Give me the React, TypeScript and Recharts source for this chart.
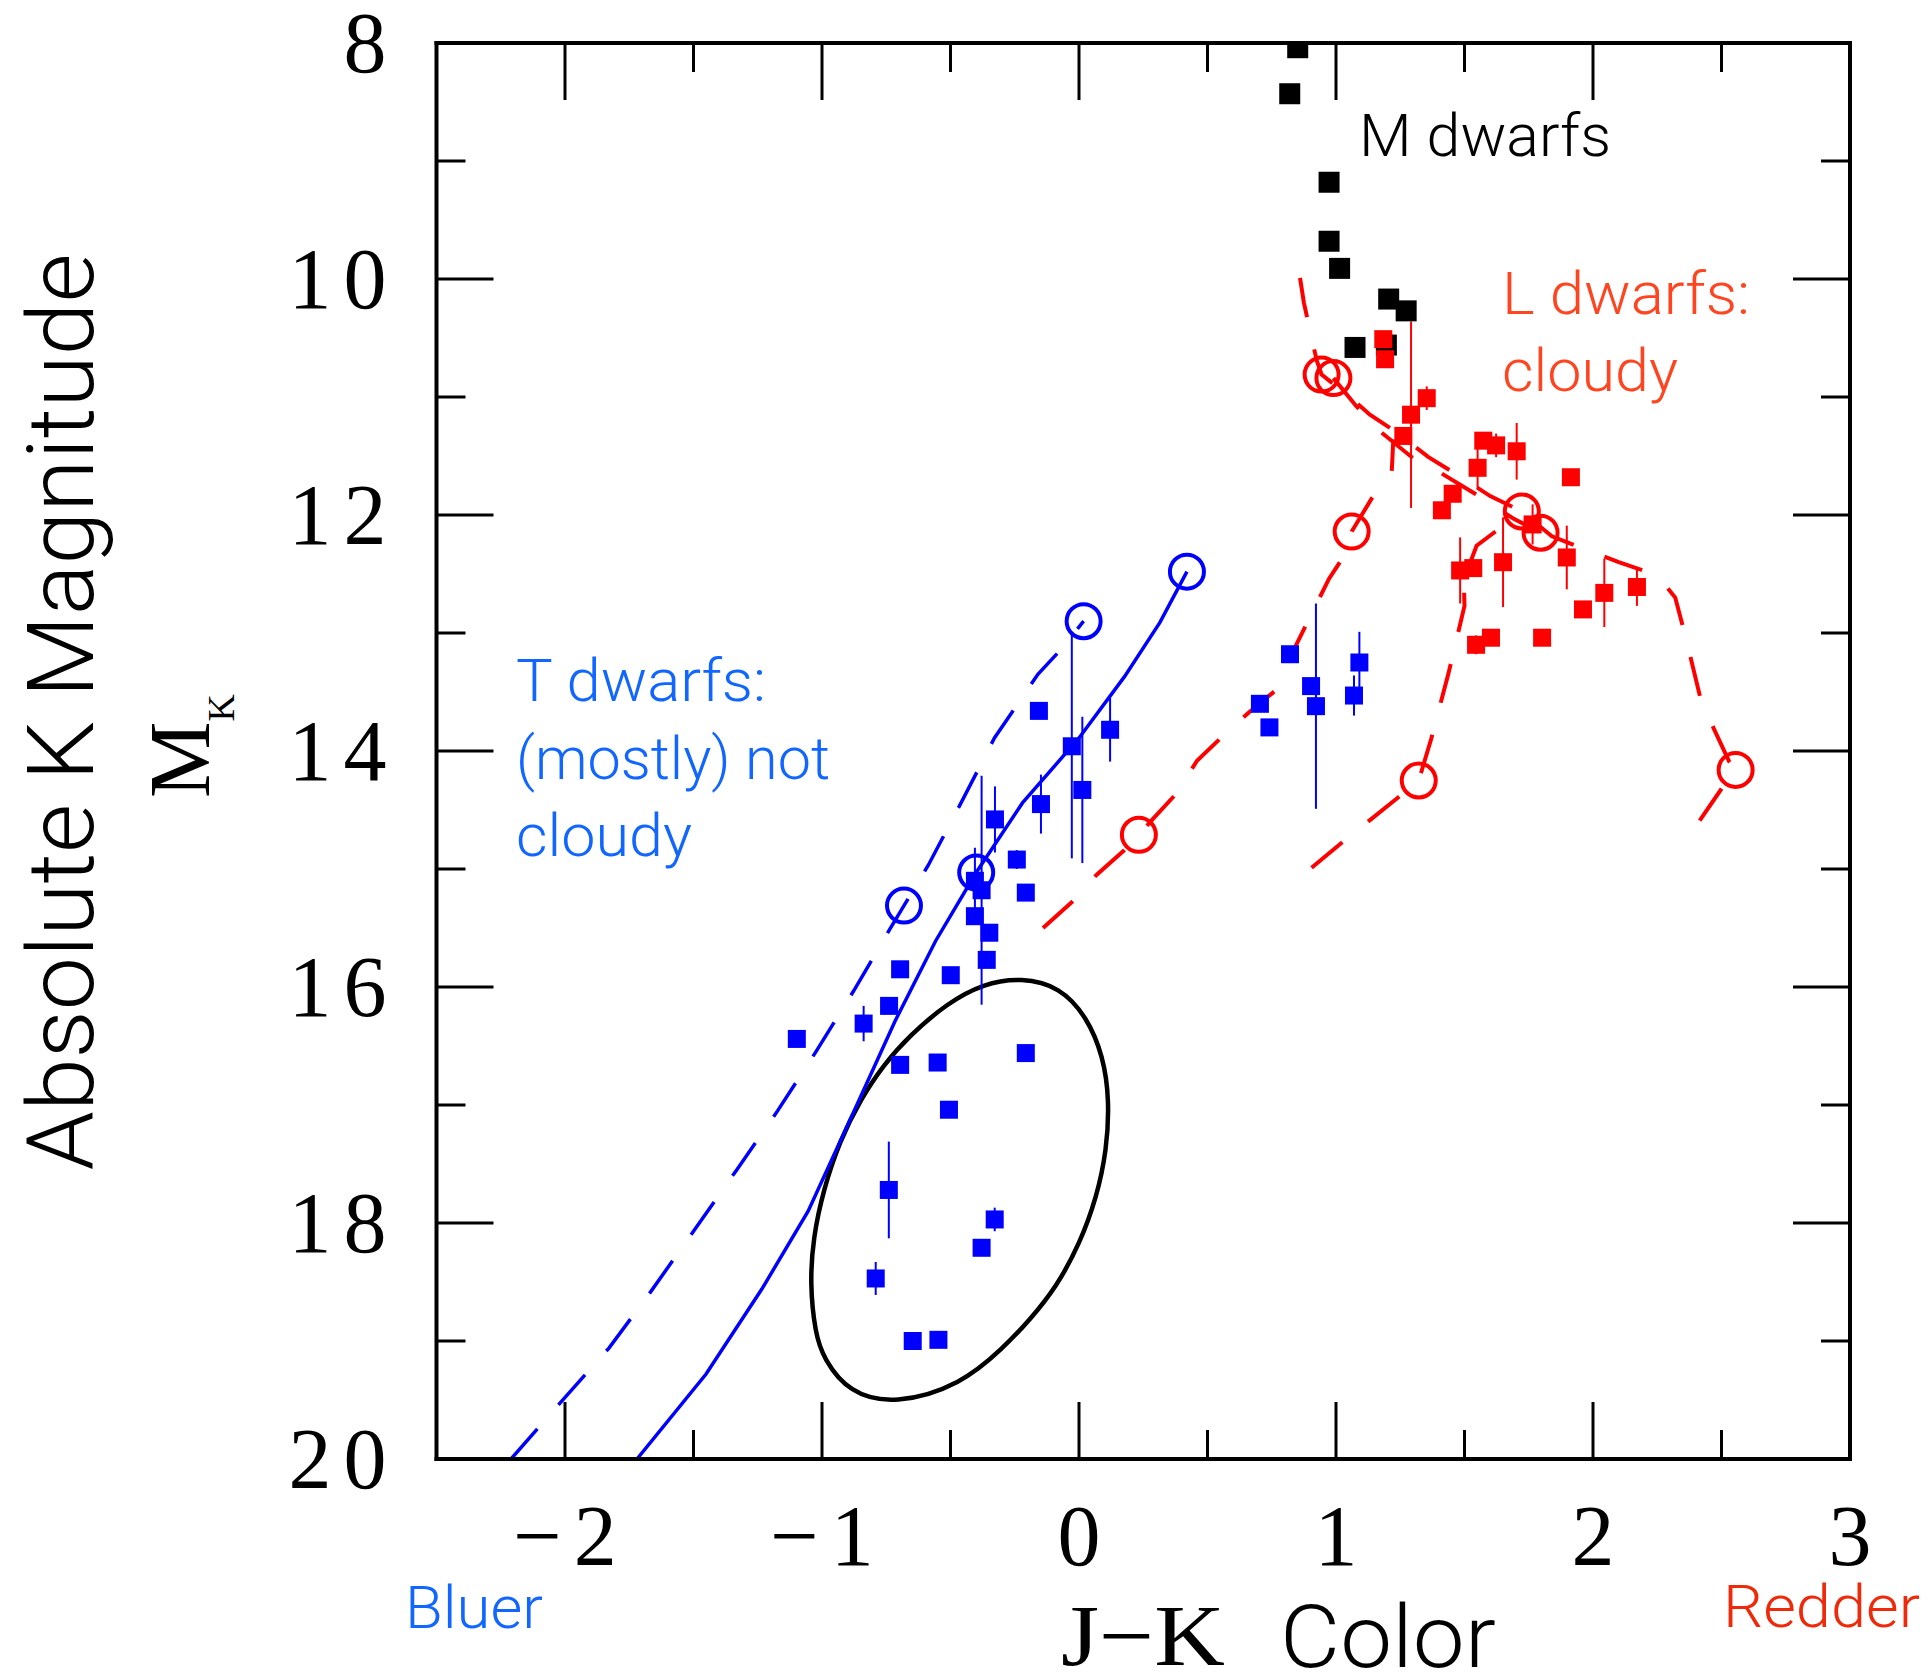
import React from 'react';
import { ComposedChart, XAxis, YAxis, Scatter, Line, ErrorBar } from 'recharts';

// Axis ticks (J-K colour on x, absolute K magnitude on y)
const xMajorTicks = [-2, -1, 0, 1, 2, 3];
const xMinorTicks = [-1.5, -0.5, 0.5, 1.5, 2.5];
const yMajorTicks = [8, 10, 12, 14, 16, 18, 20];
const yMinorTicks = [9, 11, 13, 15, 17, 19];

// M dwarfs
const mDwarfs = [
  { x: 0.851, y: 8.04 }, { x: 0.82, y: 8.43 }, { x: 0.973, y: 9.18 }, { x: 0.973, y: 9.68 },
  { x: 1.014, y: 9.91 }, { x: 1.205, y: 10.17 }, { x: 1.273, y: 10.27 }, { x: 1.074, y: 10.58 },
  { x: 1.196, y: 10.56 },
];

// L dwarfs (e = magnitude uncertainty)
const lDwarfs = [
  { x: 1.184, y: 10.51, e: 0 }, { x: 1.191, y: 10.68, e: 0 }, { x: 1.353, y: 11.01, e: 0.1 },
  { x: 1.292, y: 11.15, e: 0.79 }, { x: 1.262, y: 11.33, e: 0 }, { x: 1.573, y: 11.37, e: 0 },
  { x: 1.623, y: 11.41, e: 0.1 }, { x: 1.703, y: 11.46, e: 0.24 }, { x: 1.551, y: 11.6, e: 0.18 },
  { x: 1.914, y: 11.68, e: 0 }, { x: 1.454, y: 11.82, e: 0 }, { x: 1.412, y: 11.96, e: 0 },
  { x: 1.765, y: 12.08, e: 0.17 }, { x: 1.898, y: 12.36, e: 0.27 }, { x: 1.65, y: 12.4, e: 0.38 },
  { x: 1.483, y: 12.47, e: 0.28 }, { x: 1.534, y: 12.45, e: 0 }, { x: 2.044, y: 12.66, e: 0.29 },
  { x: 2.171, y: 12.61, e: 0.16 }, { x: 1.961, y: 12.8, e: 0 }, { x: 1.603, y: 13.04, e: 0 },
  { x: 1.545, y: 13.1, e: 0.08 }, { x: 1.802, y: 13.04, e: 0 },
];

// T dwarfs
const tDwarfs = [
  { x: 0.821, y: 13.18, e: 0 }, { x: 0.903, y: 13.45, e: 0 }, { x: 0.922, y: 13.62, e: 0.87 },
  { x: 0.704, y: 13.6, e: 0 }, { x: 0.741, y: 13.8, e: 0 }, { x: 1.091, y: 13.25, e: 0.26 },
  { x: 1.07, y: 13.53, e: 0.17 }, { x: -0.156, y: 13.66, e: 0 }, { x: -0.028, y: 13.96, e: 0.95 },
  { x: 0.013, y: 14.33, e: 0.62 }, { x: 0.121, y: 13.82, e: 0.27 }, { x: -0.148, y: 14.45, e: 0.25 },
  { x: -0.327, y: 14.58, e: 0.28 }, { x: -0.242, y: 14.92, e: 0.08 }, { x: -0.405, y: 15.1, e: 0.28 },
  { x: -0.379, y: 15.18, e: 0.97 }, { x: -0.207, y: 15.2, e: 0.06 }, { x: -0.405, y: 15.4, e: 0 },
  { x: -0.349, y: 15.54, e: 0 }, { x: -0.359, y: 15.77, e: 0 }, { x: -0.696, y: 15.85, e: 0 },
  { x: -0.499, y: 15.9, e: 0 }, { x: -0.739, y: 16.16, e: 0.06 }, { x: -0.838, y: 16.31, e: 0.15 },
  { x: -1.098, y: 16.44, e: 0.05 }, { x: -0.696, y: 16.66, e: 0 }, { x: -0.55, y: 16.64, e: 0 },
  { x: -0.207, y: 16.56, e: 0 }, { x: -0.506, y: 17.04, e: 0 }, { x: -0.74, y: 17.72, e: 0.41 },
  { x: -0.328, y: 17.97, e: 0.1 }, { x: -0.379, y: 18.21, e: 0.05 }, { x: -0.791, y: 18.47, e: 0.14 },
  { x: -0.647, y: 19.0, e: 0.05 }, { x: -0.547, y: 18.99, e: 0.03 },
];

// Outline around the faint T dwarfs
const ellipse = [
  { x: -0.223, y: 15.92 }, { x: -0.372, y: 15.97 }, { x: -0.515, y: 16.14 }, { x: -0.658, y: 16.41 },
  { x: -0.761, y: 16.66 }, { x: -0.852, y: 16.96 }, { x: -0.93, y: 17.3 }, { x: -0.995, y: 17.72 },
  { x: -1.034, y: 18.12 }, { x: -1.047, y: 18.51 }, { x: -1.027, y: 18.93 }, { x: -0.994, y: 19.15 },
  { x: -0.895, y: 19.44 }, { x: -0.716, y: 19.54 }, { x: -0.458, y: 19.37 }, { x: -0.295, y: 19.06 },
  { x: -0.191, y: 18.82 }, { x: -0.087, y: 18.54 }, { x: 0.004, y: 18.17 }, { x: 0.069, y: 17.78 },
  { x: 0.108, y: 17.38 }, { x: 0.118, y: 16.96 }, { x: 0.095, y: 16.59 }, { x: 0.03, y: 16.25 },
  { x: -0.074, y: 16.0 },
];

// Cloud-free model tracks
const blueSolid = [
  { x: -1.72, y: 20.0 }, { x: -1.451, y: 19.28 }, { x: -1.234, y: 18.56 }, { x: -1.054, y: 17.9 },
  { x: -0.856, y: 16.96 }, { x: -0.716, y: 16.29 }, { x: -0.558, y: 15.61 }, { x: -0.4, y: 15.03 },
  { x: -0.22, y: 14.44 }, { x: 0.0, y: 13.89 }, { x: 0.177, y: 13.37 }, { x: 0.315, y: 12.91 },
  { x: 0.42, y: 12.48 },
];
const blueDashed = [
  { x: -2.21, y: 20.0 }, { x: -2.017, y: 19.52 }, { x: -1.829, y: 19.06 }, { x: -1.669, y: 18.59 },
  { x: -1.5, y: 18.07 }, { x: -1.332, y: 17.55 }, { x: -1.173, y: 17.05 }, { x: -1.024, y: 16.55 },
  { x: -0.876, y: 16.03 }, { x: -0.736, y: 15.51 }, { x: -0.681, y: 15.31 }, { x: -0.587, y: 14.97 },
  { x: -0.459, y: 14.44 }, { x: -0.329, y: 13.89 }, { x: -0.16, y: 13.35 }, { x: -0.062, y: 13.12 },
  { x: 0.018, y: 12.9 },
];

// Cloudy model tracks
const redA = [
  { x: -0.14, y: 15.5 }, { x: -0.012, y: 15.25 }, { x: 0.068, y: 15.05 }, { x: 0.177, y: 14.84 },
  { x: 0.233, y: 14.71 }, { x: 0.286, y: 14.58 }, { x: 0.375, y: 14.37 }, { x: 0.46, y: 14.08 },
  { x: 0.566, y: 13.86 }, { x: 0.663, y: 13.67 }, { x: 0.78, y: 13.46 }, { x: 0.818, y: 13.22 },
  { x: 0.886, y: 12.92 }, { x: 0.973, y: 12.54 }, { x: 1.021, y: 12.38 }, { x: 1.061, y: 12.14 },
  { x: 1.139, y: 11.86 }, { x: 1.217, y: 11.63 }, { x: 1.223, y: 11.36 },
];
const redB = [
  { x: 0.86, y: 9.99 }, { x: 0.875, y: 10.2 }, { x: 0.9, y: 10.45 }, { x: 0.925, y: 10.69 },
  { x: 0.944, y: 10.81 }, { x: 1.054, y: 11.0 }, { x: 1.132, y: 11.15 }, { x: 1.223, y: 11.28 },
  { x: 1.36, y: 11.51 }, { x: 1.495, y: 11.69 }, { x: 1.6, y: 11.84 }, { x: 1.723, y: 11.97 },
  { x: 1.84, y: 12.18 }, { x: 1.98, y: 12.3 }, { x: 2.1, y: 12.4 }, { x: 2.25, y: 12.51 },
  { x: 2.32, y: 12.7 }, { x: 2.36, y: 13.03 }, { x: 2.39, y: 13.3 }, { x: 2.42, y: 13.57 },
  { x: 2.47, y: 13.81 }, { x: 2.53, y: 14.09 }, { x: 2.555, y: 14.16 }, { x: 2.5, y: 14.32 },
  { x: 2.415, y: 14.59 },
];
const redC = [
  { x: 0.905, y: 14.99 }, { x: 1.021, y: 14.78 }, { x: 1.118, y: 14.61 }, { x: 1.244, y: 14.39 },
  { x: 1.322, y: 14.25 }, { x: 1.37, y: 13.9 }, { x: 1.438, y: 13.34 }, { x: 1.5, y: 12.77 },
  { x: 1.497, y: 12.55 }, { x: 1.547, y: 12.26 }, { x: 1.645, y: 12.1 }, { x: 1.69, y: 12.03 },
];
const redD = [
  { x: 0.99, y: 10.84 }, { x: 1.08, y: 11.08 }, { x: 1.171, y: 11.29 }, { x: 1.295, y: 11.51 },
  { x: 1.405, y: 11.64 }, { x: 1.541, y: 11.82 }, { x: 1.69, y: 12.03 }, { x: 1.796, y: 12.15 },
];

// Temperature markers along the tracks
const blueCircles = [
  { x: -0.681, y: 15.31 }, { x: 0.018, y: 12.9 }, { x: -0.4, y: 15.03 }, { x: 0.42, y: 12.48 },
];
const redCircles = [
  { x: 0.233, y: 14.71 }, { x: 1.061, y: 12.14 }, { x: 0.944, y: 10.81 }, { x: 0.99, y: 10.84 },
  { x: 1.723, y: 11.97 }, { x: 1.796, y: 12.15 }, { x: 1.322, y: 14.25 }, { x: 2.555, y: 14.16 },
];

const xTicks = [...xMajorTicks, ...xMinorTicks].sort((a, b) => a - b);
const yTicks = [...yMajorTicks, ...yMinorTicks].sort((a, b) => a - b);

const BLUE = '#0000ff';
const RED = '#ff0000';
const BLUE_TEXT = '#1066ff';
const ORANGE_TEXT = '#ff4420';
const SERIF = '"Liberation Serif", serif';
const SANS = 'Roboto, "Liberation Sans", sans-serif';
const NUM_SIZE = 86;
const NUM_GAP = 12;
const MAJOR = 57;
const MINOR = 29;
const frame = { stroke: '#000', strokeWidth: 4, strokeLinecap: 'square' as const };

const fmt = (v: number) => (v < 0 ? '\u2212' + Math.abs(v) : String(v));

function BottomTick(props: any) {
  const { x, y, payload } = props;
  const major = xMajorTicks.includes(payload.value);
  return (
    <g>
      <line x1={x} x2={x} y1={y} y2={y - (major ? MAJOR : MINOR)} stroke="#000" strokeWidth={3} />
      {major && (
        <text x={x + NUM_GAP / 2} y={y + 106} textAnchor="middle" fontFamily={SERIF} fontSize={NUM_SIZE}
          letterSpacing={NUM_GAP} fill="#000">
          {fmt(payload.value)}
        </text>
      )}
    </g>
  );
}

function TopTick(props: any) {
  const { x, y, payload } = props;
  const major = xMajorTicks.includes(payload.value);
  return <line x1={x} x2={x} y1={y} y2={y + (major ? MAJOR : MINOR)} stroke="#000" strokeWidth={3} />;
}

function LeftTick(props: any) {
  const { x, y, payload } = props;
  const major = yMajorTicks.includes(payload.value);
  return (
    <g>
      <line x1={x} x2={x + (major ? MAJOR : MINOR)} y1={y} y2={y} stroke="#000" strokeWidth={3} />
      {major && (
        <text x={x - 50 + NUM_GAP} y={y + 29} textAnchor="end" fontFamily={SERIF} fontSize={NUM_SIZE}
          letterSpacing={NUM_GAP} fill="#000">
          {fmt(payload.value)}
        </text>
      )}
    </g>
  );
}

function RightTick(props: any) {
  const { x, y, payload } = props;
  const major = yMajorTicks.includes(payload.value);
  return <line x1={x} x2={x - (major ? MAJOR : MINOR)} y1={y} y2={y} stroke="#000" strokeWidth={3} />;
}

const squareShape = (size: number, color: string) => (p: any) => (
  <rect x={p.cx - size / 2} y={p.cy - size / 2} width={size} height={size} fill={color} />
);
const ringShape = (color: string) => (p: any) => (
  <circle cx={p.cx} cy={p.cy} r={17} fill="none" stroke={color} strokeWidth={4} />
);

const ids = { xAxisId: 'b', yAxisId: 'l' };

export default function App() {
  return (
    <div style={{ position: 'absolute', left: 0, top: 0, width: 1930, height: 1680, background: '#fff' }}>
      <ComposedChart width={1930} height={1680} margin={{ top: 42, right: 79, bottom: 0, left: 0 }}>
        <XAxis xAxisId="b" type="number" dataKey="x" domain={[-2.5, 3]} allowDataOverflow ticks={xTicks}
          interval={0} orientation="bottom" height={221} tickSize={0} tickMargin={0} tick={BottomTick}
          tickLine={false} axisLine={frame} />
        <XAxis xAxisId="t" type="number" dataKey="x" domain={[-2.5, 3]} allowDataOverflow ticks={xTicks}
          interval={0} orientation="top" height={1} tickSize={0} tickMargin={0} tick={TopTick}
          tickLine={false} axisLine={frame} />
        <YAxis yAxisId="l" type="number" dataKey="y" domain={[8, 20]} reversed allowDataOverflow ticks={yTicks}
          interval={0} orientation="left" width={436.5} tickSize={0} tickMargin={0} tick={LeftTick}
          tickLine={false} axisLine={frame} />
        <YAxis yAxisId="r" type="number" dataKey="y" domain={[8, 20]} reversed allowDataOverflow ticks={yTicks}
          interval={0} orientation="right" width={1} tickSize={0} tickMargin={0} tick={RightTick}
          tickLine={false} axisLine={frame} />

        <Line {...ids} data={ellipse} dataKey="y" type="basisClosed" stroke="#000" strokeWidth={4.5} dot={false} isAnimationActive={false} />
        <Line {...ids} data={blueSolid} dataKey="y" type="linear" stroke={BLUE} strokeWidth={3.5} dot={false} isAnimationActive={false} />
        <Line {...ids} data={blueDashed} dataKey="y" type="linear" stroke={BLUE} strokeWidth={3.5} strokeDasharray="40 32" dot={false} isAnimationActive={false} />
        <Line {...ids} data={redA} dataKey="y" type="linear" stroke={RED} strokeWidth={4} strokeDasharray="40 33" dot={false} isAnimationActive={false} />
        <Line {...ids} data={redB} dataKey="y" type="linear" stroke={RED} strokeWidth={4} strokeDasharray="40 33" dot={false} isAnimationActive={false} />
        <Line {...ids} data={redC} dataKey="y" type="linear" stroke={RED} strokeWidth={4} strokeDasharray="40 33" dot={false} isAnimationActive={false} />
        <Line {...ids} data={redD} dataKey="y" type="linear" stroke={RED} strokeWidth={4} strokeDasharray="40 33" dot={false} isAnimationActive={false} />

        <Scatter {...ids} data={mDwarfs} shape={squareShape(21, '#000')} isAnimationActive={false} />
        <Scatter {...ids} data={lDwarfs} shape={squareShape(18, RED)} isAnimationActive={false}>
          <ErrorBar dataKey="e" direction="y" width={0} stroke={RED} strokeWidth={2} />
        </Scatter>
        <Scatter {...ids} data={tDwarfs} shape={squareShape(18, BLUE)} isAnimationActive={false}>
          <ErrorBar dataKey="e" direction="y" width={0} stroke={BLUE} strokeWidth={2} />
        </Scatter>
        <Scatter {...ids} data={blueCircles} shape={ringShape(BLUE)} isAnimationActive={false} />
        <Scatter {...ids} data={redCircles} shape={ringShape(RED)} isAnimationActive={false} />
      </ComposedChart>

      <svg width={1930} height={1680} style={{ position: 'absolute', left: 0, top: 0, pointerEvents: 'none' }}>
        <text transform="translate(93,712) rotate(-90)" textAnchor="middle" fontFamily={SANS} fontWeight={300}
          fontSize={92} fill="#000" textLength={917} lengthAdjust="spacingAndGlyphs">Absolute K Magnitude</text>
        <text transform="translate(209,798) rotate(-90)" fontFamily={SERIF} fontSize={86} fill="#000">
          M<tspan dy={25} fontSize={38}>K</tspan>
        </text>

        <text x={1061} y={1665} fontFamily={SERIF} fontSize={86} fill="#000" textLength={164} lengthAdjust="spacingAndGlyphs">J{'\u2212'}K</text>
        <text x={1280} y={1667} fontFamily={SANS} fontWeight={300} fontSize={88} fill="#000" textLength={216} lengthAdjust="spacingAndGlyphs">Color</text>

        <text x={405} y={1628} fontFamily={SANS} fontWeight={300} fontSize={60} fill={BLUE_TEXT} textLength={138} lengthAdjust="spacingAndGlyphs">Bluer</text>
        <text x={1723} y={1627} fontFamily={SANS} fontWeight={300} fontSize={60} fill="#ee2a0a" textLength={197} lengthAdjust="spacingAndGlyphs">Redder</text>

        <text x={1359} y={156} fontFamily={SANS} fontWeight={300} fontSize={60} fill="#000" textLength={252} lengthAdjust="spacingAndGlyphs">M dwarfs</text>
        <text x={1502} y={314} fontFamily={SANS} fontWeight={300} fontSize={60} fill={ORANGE_TEXT} textLength={248} lengthAdjust="spacingAndGlyphs">L dwarfs:</text>
        <text x={1502} y={391} fontFamily={SANS} fontWeight={300} fontSize={60} fill={ORANGE_TEXT} textLength={176} lengthAdjust="spacingAndGlyphs">cloudy</text>

        <text x={516} y={701} fontFamily={SANS} fontWeight={300} fontSize={60} fill={BLUE_TEXT} textLength={250} lengthAdjust="spacingAndGlyphs">T dwarfs:</text>
        <text x={516} y={779} fontFamily={SANS} fontWeight={300} fontSize={60} fill={BLUE_TEXT} textLength={314} lengthAdjust="spacingAndGlyphs">(mostly) not</text>
        <text x={516} y={856} fontFamily={SANS} fontWeight={300} fontSize={60} fill={BLUE_TEXT} textLength={176} lengthAdjust="spacingAndGlyphs">cloudy</text>
      </svg>
    </div>
  );
}
